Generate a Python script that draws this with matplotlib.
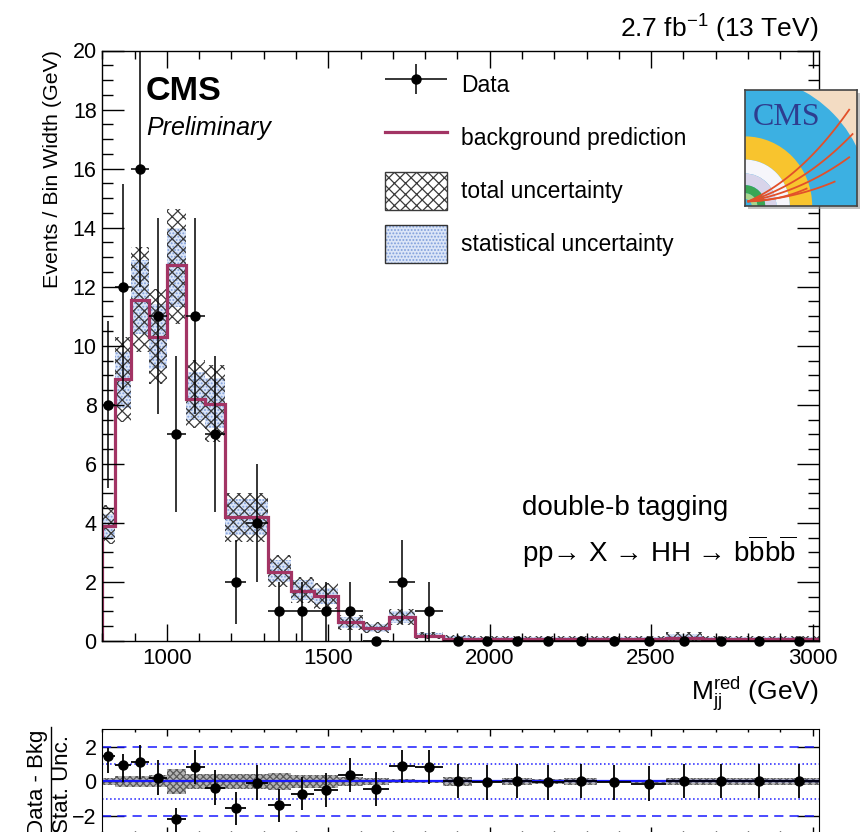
import numpy as np
import matplotlib
matplotlib.use("Agg")
import matplotlib.pyplot as plt
from matplotlib.ticker import MultipleLocator, FixedLocator, NullLocator, NullFormatter
from matplotlib.patches import Patch, Rectangle, Wedge
from matplotlib.lines import Line2D
from matplotlib.legend_handler import HandlerErrorbar, HandlerTuple

plt.rcParams['font.family'] = ['Liberation Sans', 'DejaVu Sans']
plt.rcParams['mathtext.fontset'] = 'custom'
plt.rcParams['mathtext.rm'] = 'Liberation Sans'
plt.rcParams['mathtext.it'] = 'Liberation Sans:italic'
plt.rcParams['mathtext.bf'] = 'Liberation Sans:bold'
plt.rcParams['hatch.linewidth'] = 0.9

# --- data ---
edges = [800, 838, 890, 944, 1000, 1058, 1118, 1181, 1246, 1313, 1383, 1455, 1530, 1607,
         1687, 1770, 1856, 1945, 2037, 2132, 2231, 2332, 2438, 2546, 2659, 2775, 2895, 3019]
data = [8, 12, 16, 11, 7, 11, 7, 2, 4, 1, 1, 1, 1, 0, 2, 1, 0, 0, 0, 0, 0, 0, 0, 0, 0, 0, 0]
bkg = [3.9, 8.86, 11.56, 10.3, 12.72, 8.21, 8.04, 4.21, 4.21, 2.35, 1.70, 1.52, 0.65, 0.43,
       0.82, 0.18, 0.08, 0.06, 0.06, 0.06, 0.06, 0.06, 0.06, 0.10, 0.06, 0.06, 0.06]
tot_lo = [3.3, 7.42, 9.79, 8.72, 10.75, 7.2, 6.75, 3.36, 3.36, 1.84, 1.28, 1.1, 0.37, 0.26,
          0.54, 0.06, 0.0, 0.0, 0.0, 0.0, 0.0, 0.0, 0.0, 0.0, 0.0, 0.0, 0.0]
tot_hi = [4.6, 10.28, 13.34, 11.93, 14.64, 9.53, 9.34, 5.02, 5.02, 2.91, 2.18, 1.95, 0.88, 0.63,
          1.08, 0.29, 0.2, 0.18, 0.18, 0.18, 0.18, 0.18, 0.18, 0.3, 0.18, 0.18, 0.18]
stat_lo = [3.5, 7.9, 10.4, 9.2, 11.3, 7.5, 7.2, 3.6, 3.6, 2.0, 1.4, 1.25, 0.45, 0.3,
           0.62, 0.1, 0.02, 0.02, 0.02, 0.02, 0.02, 0.02, 0.02, 0.03, 0.02, 0.02, 0.02]
stat_hi = [4.3, 9.8, 12.9, 11.4, 14.0, 9.1, 8.9, 4.8, 4.8, 2.75, 2.05, 1.8, 0.82, 0.58,
           1.0, 0.26, 0.16, 0.14, 0.14, 0.14, 0.14, 0.14, 0.14, 0.24, 0.14, 0.14, 0.14]

pull = [1.49, 0.95, 1.12, 0.21, -2.15, 0.84, -0.36, -1.52, -0.08, -1.37, -0.70, -0.51, 0.38,
        -0.42, 0.86, 0.82, 0.02, -0.06, 0.02, -0.06, 0.02, -0.06, -0.13, 0.02, 0.02, 0.02, 0.02]
pull_up = [0.44, 0.63, 0.97, 1.0, 0.63, 0.97, 1.0, 0.91, 1.0, 0.95, 0.97, 0.97, 0.98, 0.97,
           0.97, 0.97, 1.0, 1.0, 1.0, 1.0, 1.0, 1.0, 1.0, 1.0, 1.0, 1.0, 1.0]
pull_dn = [0.99, 0.99, 0.97, 1.0, 1.0, 0.97, 1.0, 1.0, 1.0, 0.95, 0.97, 0.97, 0.98, 0.97,
           0.97, 0.97, 1.0, 1.0, 1.0, 1.0, 1.0, 1.0, 1.0, 1.0, 1.0, 1.0, 1.0]
pull_band = [0.2, 0.33, 0.33, 0.35, 0.72, 0.43, 0.42, 0.45, 0.45, 0.5, 0.38, 0.38, 0.25, 0.2,
             0.12, 0.08, 0.25, 0.05, 0.2, 0.15, 0.2, 0.05, 0.1, 0.2, 0.2, 0.2, 0.2]

edges_a = np.array(edges, dtype=float)
centers = 0.5 * (edges_a[1:] + edges_a[:-1])
halfw = 0.5 * (edges_a[1:] - edges_a[:-1])
data_a = np.array(data, dtype=float)

W, H = 863, 832
BKG_COLOR = '#a23464'
BLUE = '#1a1aff'


def rect(x0, y0, x1, y1):
    # pixel box (top-left origin) -> figure fraction rect
    return [x0 / W, 1 - y1 / H, (x1 - x0) / W, (y1 - y0) / H]


fig = plt.figure(figsize=(W / 100, H / 100), dpi=100)
ax = fig.add_axes(rect(102.3, 50.5, 819, 641))
rax = fig.add_axes(rect(102.3, 729.3, 819, 833.5))

# --- main panel ---
ax.stairs(stat_hi, edges, baseline=stat_lo, fill=True, facecolor='#dbe5f7',
          edgecolor='#7f9edb', hatch='.....', linewidth=0)
ax.stairs(tot_hi, edges, baseline=tot_lo, fill=True, facecolor='none',
          edgecolor='#3a3a3a', hatch='xxx', linewidth=0)
ax.stairs(bkg, edges, color=BKG_COLOR, linewidth=2.3)
data_h = ax.errorbar(centers, data_a, xerr=halfw, yerr=np.sqrt(data_a), fmt='o',
                     color='black', ms=6.5, elinewidth=1.1, capsize=0, clip_on=False,
                     zorder=5)

ax.set_xlim(800, 3020)
ax.set_ylim(0, 20)
ax.xaxis.set_major_locator(MultipleLocator(500))
ax.xaxis.set_minor_locator(MultipleLocator(100))
ax.yaxis.set_major_locator(MultipleLocator(2))
ax.yaxis.set_minor_locator(MultipleLocator(0.5))
ax.tick_params(which='both', direction='in', top=True, right=True, width=1.0)
ax.tick_params(axis='y', which='major', length=15.5, labelsize=15.5, pad=4)
ax.tick_params(axis='y', which='minor', length=7.8)
ax.tick_params(axis='x', which='major', length=12.2, labelsize=16, pad=5)
ax.tick_params(axis='x', which='minor', length=6)
for s in ax.spines.values():
    s.set_linewidth(1.0)

ax.set_ylabel('Events / Bin Width (GeV)', fontsize=15.4, loc='top')
ax.yaxis.set_label_coords(-0.056, 1.0)
ax.set_xlabel(r'M$_{\mathrm{jj}}^{\mathrm{red}}$ (GeV)', fontsize=19, loc='right')
ax.xaxis.set_label_coords(1.0, -0.057)

# legend
tot_h = Patch(facecolor='white', edgecolor='#3a3a3a', hatch='xxx', linewidth=1.0)
stat_h = (Patch(facecolor='#dbe5f7', edgecolor='#7f9edb', hatch='.....', linewidth=0),
          Patch(facecolor='none', edgecolor='#333333', linewidth=1.0))
bkg_h = Line2D([], [], color=BKG_COLOR, linewidth=2.3)
fs = 16.5
fs_px = fs * 100 / 72
ax.legend([data_h, bkg_h, tot_h, stat_h],
          ['Data', 'background prediction', 'total uncertainty', 'statistical uncertainty'],
          handler_map={type(data_h): HandlerErrorbar(xerr_size=1.35, yerr_size=0.66),
                       tuple: HandlerTuple(ndivide=1)},
          loc='upper left', bbox_to_anchor=(385 / W, 1 - 66 / H),
          bbox_transform=fig.transFigure, frameon=False, fontsize=fs,
          handlelength=62 / fs_px, handleheight=2.18, labelspacing=15 / fs_px,
          handletextpad=14 / fs_px, borderpad=0, borderaxespad=0)

# --- pull panel ---
rax.stairs(np.array(pull_band), edges, baseline=-np.array(pull_band), fill=True,
           facecolor='#b4b4b4', edgecolor='#5a5a5a', hatch='xxxxx', linewidth=0)
rax.axhline(0, color=BLUE, linewidth=1.6)
for lvl in (1, -1):
    rax.axhline(lvl, color=BLUE, linewidth=1.1, linestyle=':')
for lvl in (2, -2):
    rax.axhline(lvl, color=BLUE, linewidth=1.1, linestyle=(0, (6, 4)))
rax.errorbar(centers, pull, xerr=halfw, yerr=[pull_dn, pull_up], fmt='o', color='black',
             ms=6.5, elinewidth=1.3, capsize=0, zorder=5)
rax.set_xlim(800, 3020)
rax.set_ylim(-3, 3)
rax.yaxis.set_major_locator(FixedLocator([-2, 0, 2]))
rax.yaxis.set_minor_locator(NullLocator())
rax.xaxis.set_major_locator(MultipleLocator(500))
rax.xaxis.set_minor_locator(MultipleLocator(100))
rax.xaxis.set_major_formatter(NullFormatter())
rax.tick_params(which='both', direction='in', top=True, right=True, width=1.0)
rax.tick_params(axis='y', which='major', length=15.5, labelsize=15.5, pad=4)
rax.tick_params(axis='x', which='major', length=5)
rax.tick_params(axis='x', which='minor', length=2.5)

# fraction style y label of the pull panel
fig.text(38 / W, 1 - 730 / H, 'Data - Bkg', rotation=90, fontsize=16, ha='center', va='top')
fig.text(63 / W, 1 - 735 / H, 'Stat. Unc.', rotation=90, fontsize=16, ha='center', va='top')
fig.add_artist(Line2D([51 / W, 51 / W], [1 - 727 / H, 0], transform=fig.transFigure,
                      color='black', linewidth=1.0))

# --- texts ---
fig.text(146 / W, 1 - 100 / H, 'CMS', fontsize=24.6, fontweight='bold', va='baseline')
fig.text(146 / W, 1 - 135 / H, 'Preliminary', fontsize=18, style='italic', va='baseline')
fig.text(818 / W, 1 - 38 / H, r'2.7 fb$^{\mathrm{-1}}$ (13 TeV)', fontsize=19, ha='right',
         va='baseline')
fig.text(522 / W, 1 - 515 / H, 'double-b tagging', fontsize=20, va='baseline')
fig.text(522 / W, 1 - 562 / H,
         'pp\u2192 X \u2192 HH \u2192 b' + r'$\overline{\mathrm{b}}$' + 'b'
         + r'$\overline{\mathrm{b}}$',
         fontsize=20, va='baseline')

# --- CMS logo ---
fig.add_artist(Rectangle((748 / W, 1 - 209 / H), 112 / W, 116 / H, transform=fig.transFigure,
                         facecolor='#9a9a9a', edgecolor='none', alpha=0.6, zorder=4))
lax = fig.add_axes(rect(745, 90, 857, 206))
lax.set_zorder(6)
lax.set_xlim(0, 1)
lax.set_ylim(0, 1)
lax.set_xticks([])
lax.set_yticks([])
lax.set_facecolor('#f3dcc3')
lax.add_patch(Wedge((0, 0), 1.12, 0, 90, facecolor='#3cb0e2', edgecolor='none'))
lax.add_patch(Wedge((0, 0), 0.60, 0, 90, width=0.20, facecolor='#f8c42e', edgecolor='none'))
lax.add_patch(Wedge((0, 0), 0.40, 0, 90, width=0.12, facecolor='#f6f6fb', edgecolor='none'))
lax.add_patch(Wedge((0, 0), 0.28, 0, 90, width=0.10, facecolor='#d8d4ea', edgecolor='none'))
lax.add_patch(Wedge((0, 0), 0.18, 0, 90, width=0.07, facecolor='#3aa655', edgecolor='none'))
lax.add_patch(Wedge((0, 0), 0.11, 0, 90, width=0.05, facecolor='#a8d58c', edgecolor='none'))
t = np.linspace(0, 1, 60)
for ex, ey in [(0.93, 0.83), (0.96, 0.62), (0.93, 0.42), (0.80, 0.21), (0.55, 0.15)]:
    cx, cy = 0.55 * ex, 0.30 * ey
    bx = (1 - t) ** 2 * 0.03 + 2 * (1 - t) * t * cx + t ** 2 * ex
    by = (1 - t) ** 2 * 0.04 + 2 * (1 - t) * t * cy + t ** 2 * ey
    lax.plot(bx, by, color='#e2502a', linewidth=1.3)
lax.text(0.07, 0.70, 'CMS', family=['Liberation Serif', 'DejaVu Serif'], fontsize=23,
         color='#2e3d8f', va='baseline')
for s in lax.spines.values():
    s.set_linewidth(1.2)
    s.set_edgecolor('#444444')

fig.savefig('out.png', dpi=100)
